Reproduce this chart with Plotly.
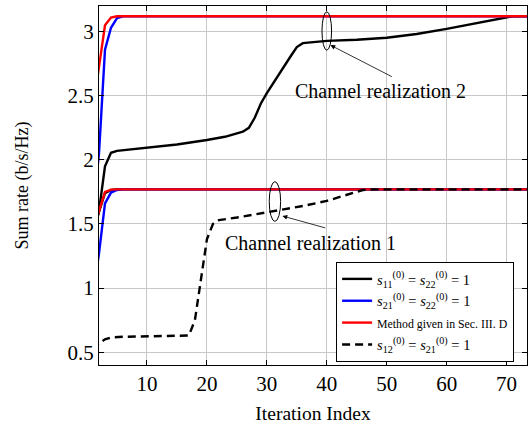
import plotly.graph_objects as go

# Sum rate (b/s/Hz) versus iteration index, two channel realizations
# --- Channel realization 2 ---
it_black_2 = [1, 2, 3, 4, 5, 10, 15, 20, 23, 26, 27, 28, 29, 30, 32, 34, 35, 36, 40, 45, 50, 55, 60, 65, 70, 71, 75]
sr_black_2 = [1.40, 1.60, 1.95, 2.055, 2.07, 2.097, 2.12, 2.155, 2.18, 2.22, 2.25, 2.33, 2.44, 2.52, 2.67, 2.81, 2.88, 2.91,
              2.928, 2.937, 2.952, 2.982, 3.022, 3.066, 3.113, 3.12, 3.12]
it_blue_2 = [1, 2, 3, 4, 5, 6, 75]
sr_blue_2 = [1.60, 2.05, 2.86, 3.03, 3.105, 3.12, 3.12]
it_red_2 = [1, 2, 3, 4, 5, 75]
sr_red_2 = [2.40, 2.74, 3.05, 3.11, 3.12, 3.12]

# --- Channel realization 1 ---
it_black_1 = [1, 2, 3, 4, 5, 75]
sr_black_1 = [1.45, 1.60, 1.74, 1.765, 1.77, 1.77]
it_blue_1 = [1, 2, 3, 4, 5, 6, 75]
sr_blue_1 = [0.95, 1.27, 1.66, 1.745, 1.765, 1.77, 1.77]
it_red_1 = [1, 2, 3, 4, 5, 75]
sr_red_1 = [1.45, 1.60, 1.75, 1.768, 1.77, 1.77]
it_dash_1 = [1, 2, 3, 4, 6, 10, 15, 17, 18, 19, 20, 21, 22, 25, 30, 33, 36, 40, 43, 45, 46, 48, 75]
sr_dash_1 = [0.52, 0.57, 0.60, 0.615, 0.62, 0.622, 0.625, 0.63, 0.75, 1.08, 1.38, 1.50, 1.53, 1.55, 1.59, 1.615, 1.64,
             1.68, 1.72, 1.75, 1.765, 1.77, 1.77]

x_ticks = [10, 20, 30, 40, 50, 60, 70]
y_ticks = [0.5, 1, 1.5, 2, 2.5, 3]

lbl_black = "<i>s</i><sub>11</sub><sup>(0)</sup> = <i>s</i><sub>22</sub><sup>(0)</sup> = 1"
lbl_blue = "<i>s</i><sub>21</sub><sup>(0)</sup> = <i>s</i><sub>22</sub><sup>(0)</sup> = 1"
lbl_red = "<span style='font-size:11.8px'>Method given in Sec. III. D</span>"
lbl_dash = "<i>s</i><sub>12</sub><sup>(0)</sup> = <i>s</i><sub>21</sub><sup>(0)</sup> = 1"

SERIF = "Liberation Serif"
LW = 2.4

fig = go.Figure()


def add_line(xs, ys, color, name, show, dash="solid"):
    fig.add_trace(go.Scatter(
        x=xs, y=ys, mode="lines", name=name, showlegend=show, legendgroup=name,
        line=dict(color=color, width=LW, dash=dash),
    ))


add_line(it_black_2, sr_black_2, "black", lbl_black, True)
add_line(it_black_1, sr_black_1, "black", lbl_black, False)
add_line(it_blue_2, sr_blue_2, "#0000ff", lbl_blue, True)
add_line(it_blue_1, sr_blue_1, "#0000ff", lbl_blue, False)
add_line(it_red_2, sr_red_2, "#ff0000", lbl_red, True)
add_line(it_red_1, sr_red_1, "#ff0000", lbl_red, False)
add_line(it_dash_1, sr_dash_1, "black", lbl_dash, True, dash="8px,5px")

# ellipses grouping the curves of each realization
fig.add_shape(type="circle", xref="x", yref="y", x0=39.2, x1=40.8, y0=2.855, y1=3.155,
              line=dict(color="black", width=1))
fig.add_shape(type="circle", xref="x", yref="y", x0=30.4, x1=32.3, y0=1.52, y1=1.83,
              line=dict(color="black", width=1))

# callout labels with arrows pointing to the ellipses
fig.add_annotation(x=40.6, y=2.895, ax=51.1, ay=2.643, xref="x", yref="y", axref="x", ayref="y",
                   text="", showarrow=True, arrowhead=2, arrowsize=1.2, arrowwidth=0.8, arrowcolor="black")
fig.add_annotation(x=48.9, y=2.536, xref="x", yref="y", text="Channel realization 2", showarrow=False,
                   font=dict(family=SERIF, size=20, color="black"))
fig.add_annotation(x=32.6, y=1.562, ax=40.0, ay=1.466, xref="x", yref="y", axref="x", ayref="y",
                   text="", showarrow=True, arrowhead=2, arrowsize=1.2, arrowwidth=0.8, arrowcolor="black")
fig.add_annotation(x=37.2, y=1.35, xref="x", yref="y", text="Channel realization 1", showarrow=False,
                   font=dict(family=SERIF, size=20, color="black"))

axis_common = dict(
    showline=True, linecolor="black", linewidth=1, mirror="allticks",
    ticks="inside", ticklen=5, tickcolor="black",
    showgrid=True, gridcolor="#c8c8c8", gridwidth=1, zeroline=False,
    tickfont=dict(family=SERIF, size=21, color="black"),
)

fig.update_xaxes(range=[2, 73.4], tickvals=x_ticks, ticktext=[str(v) for v in x_ticks],
                 title=dict(text="Iteration Index", font=dict(family=SERIF, size=19.5, color="black"), standoff=14),
                 **axis_common)
fig.update_yaxes(range=[0.40, 3.20], tickvals=y_ticks, ticktext=["0.5", "1", "1.5", "2", "2.5", "3"],
                 title=dict(text="Sum rate (b/s/Hz)", font=dict(family=SERIF, size=18, color="black"), standoff=34),
                 **axis_common)

fig.update_layout(
    width=528, height=424,
    margin=dict(l=99, r=1, t=6, b=59),
    plot_bgcolor="white", paper_bgcolor="white",
    font=dict(family=SERIF, color="black"),
    legend=dict(
        x=0.554, y=0.287, xanchor="left", yanchor="top",
        bgcolor="white", bordercolor="black", borderwidth=1,
        font=dict(family=SERIF, size=14.5, color="black"),
        tracegroupgap=0, itemwidth=30,
    ),
)

fig.write_html("out.html")
